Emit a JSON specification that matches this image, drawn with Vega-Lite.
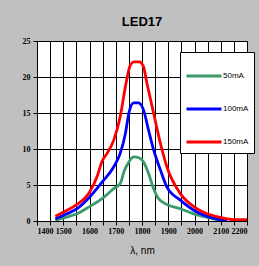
{
  "$schema": "https://vega.github.io/schema/vega-lite/v6.json",
  "autosize": {"type": "none"},
  "width": 210,
  "height": 180,
  "padding": {"left": 37, "top": 41, "right": 12, "bottom": 45},
  "background": "#c0c0c0",
  "title": {"text": "LED17", "font": "Liberation Sans", "fontSize": 13, "fontWeight": "bold", "color": "#000000", "offset": 8},
  "config": {
    "view": {"fill": "#ffffff", "stroke": "#000000", "strokeWidth": 1},
    "axis": {"grid": true, "gridColor": "#000000", "gridOpacity": 1, "gridWidth": 1, "domainColor": "#000000", "tickColor": "#000000", "labelColor": "#000000", "labelFont": "Liberation Sans Narrow", "labelFontSize": 8, "labelFontWeight": "bold", "titleFont": "Liberation Sans", "titleColor": "#000000", "labelOverlap": false}
  },
  "data": {"values": [
    {"wl": 1470, "v": 0.1, "s": "50mA"},
    {"wl": 1510, "v": 0.5, "s": "50mA"},
    {"wl": 1552, "v": 1.0, "s": "50mA"},
    {"wl": 1600, "v": 2.0, "s": "50mA"},
    {"wl": 1648, "v": 3.1, "s": "50mA"},
    {"wl": 1692, "v": 4.5, "s": "50mA"},
    {"wl": 1717, "v": 5.2, "s": "50mA"},
    {"wl": 1733, "v": 7.0, "s": "50mA"},
    {"wl": 1750, "v": 8.2, "s": "50mA"},
    {"wl": 1768, "v": 8.9, "s": "50mA"},
    {"wl": 1787, "v": 8.8, "s": "50mA"},
    {"wl": 1806, "v": 8.2, "s": "50mA"},
    {"wl": 1825, "v": 6.6, "s": "50mA"},
    {"wl": 1844, "v": 4.5, "s": "50mA"},
    {"wl": 1863, "v": 3.1, "s": "50mA"},
    {"wl": 1895, "v": 2.3, "s": "50mA"},
    {"wl": 1946, "v": 1.7, "s": "50mA"},
    {"wl": 1997, "v": 1.0, "s": "50mA"},
    {"wl": 2048, "v": 0.5, "s": "50mA"},
    {"wl": 2098, "v": 0.1, "s": "50mA"},
    {"wl": 2124, "v": 0.0, "s": "50mA"},
    {"wl": 1470, "v": 0.3, "s": "100mA"},
    {"wl": 1514, "v": 1.0, "s": "100mA"},
    {"wl": 1552, "v": 1.7, "s": "100mA"},
    {"wl": 1600, "v": 3.3, "s": "100mA"},
    {"wl": 1648, "v": 5.4, "s": "100mA"},
    {"wl": 1692, "v": 7.5, "s": "100mA"},
    {"wl": 1717, "v": 9.4, "s": "100mA"},
    {"wl": 1737, "v": 12.2, "s": "100mA"},
    {"wl": 1750, "v": 15.0, "s": "100mA"},
    {"wl": 1768, "v": 16.4, "s": "100mA"},
    {"wl": 1787, "v": 16.4, "s": "100mA"},
    {"wl": 1806, "v": 15.4, "s": "100mA"},
    {"wl": 1825, "v": 12.6, "s": "100mA"},
    {"wl": 1844, "v": 9.9, "s": "100mA"},
    {"wl": 1870, "v": 7.1, "s": "100mA"},
    {"wl": 1895, "v": 4.7, "s": "100mA"},
    {"wl": 1946, "v": 2.9, "s": "100mA"},
    {"wl": 1997, "v": 1.5, "s": "100mA"},
    {"wl": 2048, "v": 0.65, "s": "100mA"},
    {"wl": 2098, "v": 0.2, "s": "100mA"},
    {"wl": 2124, "v": 0.05, "s": "100mA"},
    {"wl": 1470, "v": 0.65, "s": "150mA"},
    {"wl": 1514, "v": 1.5, "s": "150mA"},
    {"wl": 1552, "v": 2.3, "s": "150mA"},
    {"wl": 1600, "v": 4.0, "s": "150mA"},
    {"wl": 1630, "v": 6.3, "s": "150mA"},
    {"wl": 1648, "v": 8.3, "s": "150mA"},
    {"wl": 1667, "v": 9.4, "s": "150mA"},
    {"wl": 1692, "v": 11.2, "s": "150mA"},
    {"wl": 1717, "v": 14.5, "s": "150mA"},
    {"wl": 1737, "v": 18.7, "s": "150mA"},
    {"wl": 1756, "v": 21.7, "s": "150mA"},
    {"wl": 1770, "v": 22.1, "s": "150mA"},
    {"wl": 1790, "v": 22.1, "s": "150mA"},
    {"wl": 1805, "v": 21.5, "s": "150mA"},
    {"wl": 1819, "v": 19.1, "s": "150mA"},
    {"wl": 1844, "v": 15.0, "s": "150mA"},
    {"wl": 1870, "v": 10.8, "s": "150mA"},
    {"wl": 1895, "v": 7.5, "s": "150mA"},
    {"wl": 1946, "v": 3.8, "s": "150mA"},
    {"wl": 1997, "v": 2.0, "s": "150mA"},
    {"wl": 2048, "v": 1.0, "s": "150mA"},
    {"wl": 2098, "v": 0.5, "s": "150mA"},
    {"wl": 2149, "v": 0.2, "s": "150mA"},
    {"wl": 2200, "v": 0.2, "s": "150mA"}
  ]},
  "mark": {"type": "line", "strokeWidth": 2.8, "clip": true, "interpolate": "monotone"},
  "encoding": {
    "x": {"field": "wl", "type": "quantitative", "scale": {"domain": [1400, 2200], "nice": false, "zero": false},
      "axis": {"grid": true, "values": [1400,1450,1500,1550,1600,1650,1700,1750,1800,1850,1900,1950,2000,2050,2100,2150,2200], "format": "d", "labelExpr": "datum.value % 100 == 0 ? datum.label : ''", "title": "λ, nm", "titleFontSize": 10, "titleFontWeight": "normal", "titlePadding": 10, "tickSize": 4, "labelPadding": 2}},
    "y": {"field": "v", "type": "quantitative", "scale": {"domain": [0, 25], "nice": false},
      "axis": {"values": [0, 5, 10, 15, 20, 25], "title": null, "tickSize": 4, "labelPadding": 3}},
    "color": {"field": "s", "type": "nominal", "sort": ["50mA", "100mA", "150mA"],
      "scale": {"domain": ["50mA", "100mA", "150mA"], "range": ["#3a9a6a", "#0000ff", "#ff0000"]},
      "legend": {"title": null, "orient": "none", "legendX": 143, "legendY": 11, "fillColor": "#ffffff", "strokeColor": "#000000", "padding": 5, "symbolType": "stroke", "symbolStrokeWidth": 2.8, "symbolSize": 1225, "labelFont": "Liberation Sans", "labelFontSize": 8, "labelColor": "#000000", "rowPadding": 8, "labelOffset": 0}
    }
  }
}
